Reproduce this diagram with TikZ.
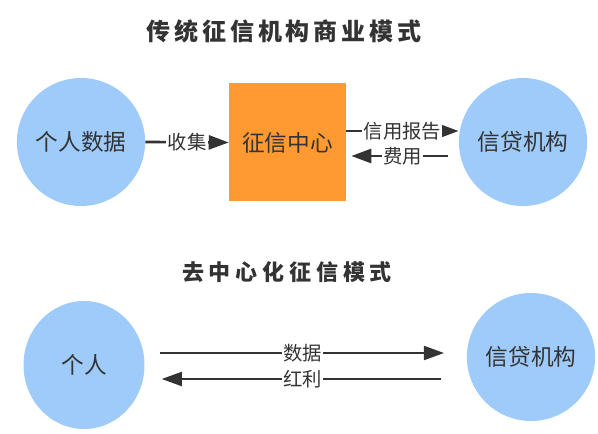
\documentclass[tikz,border=0pt]{standalone}
\usepackage{fontspec}
\setmainfont{Noto Sans CJK SC}
\usepackage{xcolor}
\usetikzlibrary{arrows.meta,positioning,shapes.geometric}
\definecolor{meuazul}{RGB}{158,203,250}
\definecolor{meularanja}{RGB}{255,154,51}
\definecolor{meucinza}{RGB}{51,51,51}

\begin{document}
\begin{tikzpicture}[x=0.75pt, y=-0.75pt, font=\fontsize{14.5}{16}\selectfont, text=meucinza,
    bolha/.style={ellipse, fill=meuazul, minimum width=90.75pt, minimum height=96pt, inner sep=0pt, font=\fontsize{17}{20}\selectfont},
    fluxo/.style={-{Triangle[length=15pt,width=10.5pt]}, line width=2pt, draw=meucinza},
    rotulo/.style={fill=white, inner sep=1pt}]
        \useasboundingbox (0,0) rectangle (598,434);

        % Titulo de cima
        \node[font=\fontsize{18}{20}\selectfont\bfseries\addfontfeature{LetterSpace=16}] (tit1) at (284,31) {传统征信机构商业模式};

        % Modelo tradicional
        \node[bolha] (dados) at (81,142) {个人数据};
        \node[fill=meularanja, minimum width=87.75pt, minimum height=88.5pt, font=\fontsize{17}{20}\selectfont] (centro) at (287.5,142.5) {征信中心};
        \node[bolha] (inst) at (523,142) {信贷机构};

        \draw[fluxo] (dados.east) -- (centro.west) node[rotulo, midway] {收集};
        \draw[fluxo] ([yshift=8.6pt]centro.east) -- ([yshift=8.6pt]centro.east -| inst.west) node[rotulo, midway] {信用报告};
        \draw[fluxo, shorten <=8pt, shorten >=3.75pt] ([yshift=-10.5pt]inst.west) -- ([yshift=-10.5pt]inst.west -| centro.east) node[rotulo, midway] {费用};

        % Titulo de baixo
        \node[font=\fontsize{16.5}{18}\selectfont\bfseries\addfontfeature{LetterSpace=22}] (tit2) at (287,272) {去中心化征信模式};

        % Modelo descentralizado
        \node[bolha] (pessoa) at (84,365) {个人};
        \node[bolha] (inst2) at (531,357) {信贷机构};

        \draw[fluxo, line width=1.5pt, shorten <=11.25pt, shorten >=17pt] ([yshift=9pt]pessoa.east) -- ([yshift=9pt]pessoa.east -| inst2.west) node[rotulo, pos=0.49] {数据};
        \draw[fluxo, line width=1.5pt, shorten <=19pt, shorten >=12.75pt] ([yshift=-10.5pt]pessoa.east -| inst2.west) -- ([yshift=-10.5pt]pessoa.east) node[rotulo, pos=0.51] {红利};

    \end{tikzpicture}
\end{document}
